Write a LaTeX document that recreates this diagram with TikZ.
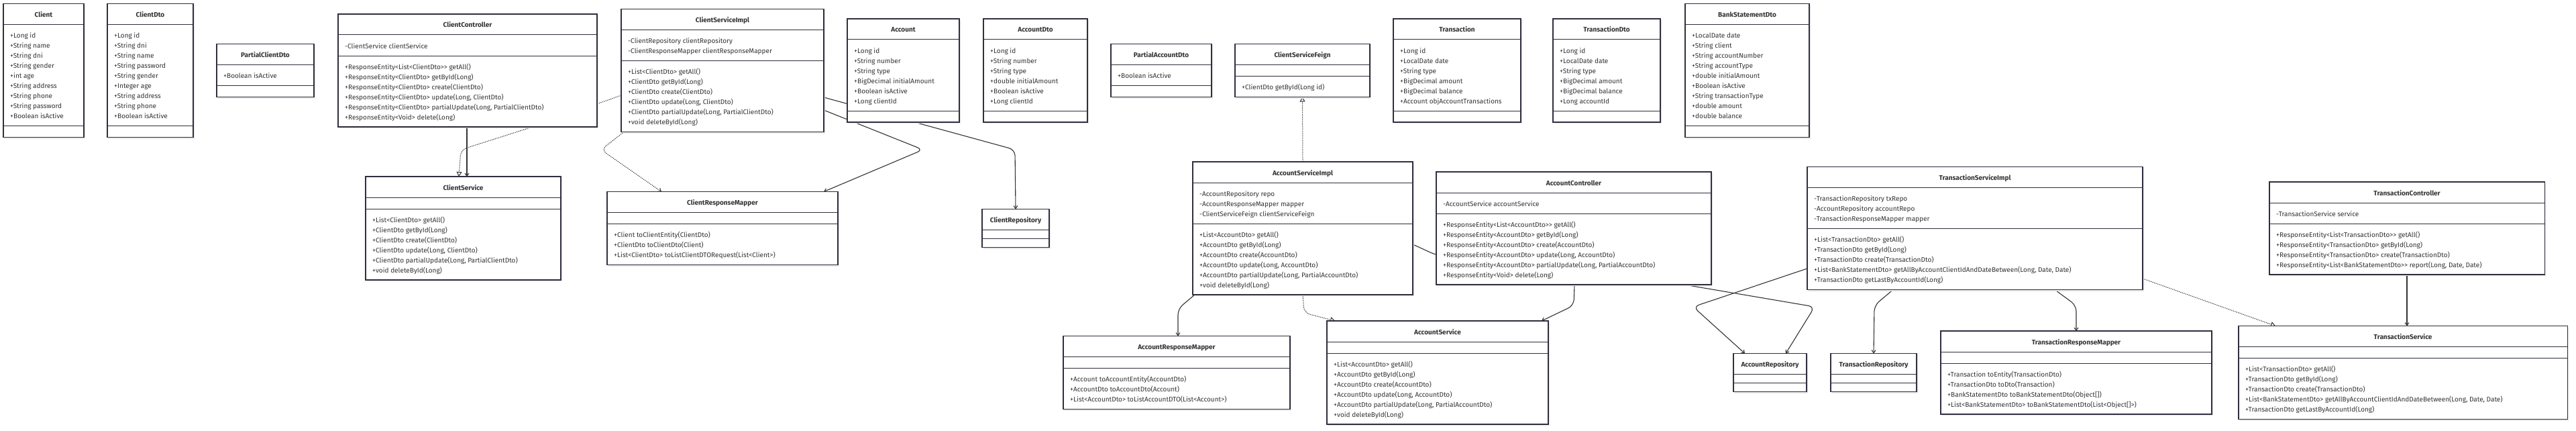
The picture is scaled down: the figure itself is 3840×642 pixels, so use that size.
\documentclass[tikz,border=0pt]{standalone}
\usepackage{fontspec}
\setmainfont{Fira Sans}
\usetikzlibrary{arrows.meta, shadows, backgrounds}

\definecolor{boxline}{HTML}{2F2F3F}
\definecolor{txtcol}{HTML}{333333}
\definecolor{edgecol}{HTML}{333333}

\tikzset{
  umlframe/.style={draw=boxline, line width=1.1pt, fill=white, inner sep=0pt, outer sep=0pt,
    drop shadow={shadow xshift=2pt, shadow yshift=-2pt, fill=black!9, opacity=1}},
  umlrule/.style={draw=boxline, line width=1pt},
  umltitle/.style={inner sep=0pt, text=txtcol, font=\fontsize{10}{15}\selectfont\bfseries},
  umltext/.style={inner sep=0pt, align=left, text=txtcol, font=\fontsize{10}{15}\selectfont},
  assoc/.style={draw=edgecol, line width=1.1pt, rounded corners=9pt, arrows={-Straight Barb[length=4pt,width=6pt]}},
  realize/.style={draw=edgecol, line width=1pt, dash pattern=on 1.3pt off 1.3pt, rounded corners=9pt, arrows={-Triangle[open,length=7pt,width=8pt]}},
  depend/.style={draw=edgecol, line width=1pt, dash pattern=on 1.3pt off 1.3pt, rounded corners=9pt, arrows={-Straight Barb[length=4pt,width=6pt]}}
}

\newcommand{\umlstrut}{\rule{0pt}{11pt}}
% name, left, centre y, width, title, #attr, attrs, #meth, methods
\newcommand{\umlclass}[9]{%
  \pgfmathsetmacro{\clsA}{ifthenelse(#6>0,#6*15+16,ifthenelse(#8>0,17,13))}%
  \pgfmathsetmacro{\clsM}{ifthenelse(#8>0,#8*15+16,ifthenelse(#6>0,17,13))}%
  \pgfmathsetmacro{\clsH}{31+\clsA+\clsM}%
  \pgfmathsetmacro{\clsT}{#3-\clsH/2}%
  \node[umlframe, anchor=north west, minimum width=#4pt, minimum height=\clsH pt] (#1) at (#2,\clsT) {};
  \draw[umlrule] ([yshift=-31pt]#1.north west) -- ([yshift=-31pt]#1.north east);
  \draw[umlrule] ([yshift=-31pt-\clsA pt]#1.north west) -- ([yshift=-31pt-\clsA pt]#1.north east);
  \node[umltitle, anchor=base] (#1-name) at ([yshift=-20pt]#1.north) {#5};
  \ifnum#6>0 \node[umltext, anchor=north west] (#1-attr) at ([xshift=10pt,yshift=-40pt]#1.north west) {\umlstrut#7};\fi
  \ifnum#8>0 \node[umltext, anchor=north west] (#1-meth) at ([xshift=10pt,yshift=-40pt-\clsA pt]#1.north west) {\umlstrut#9};\fi
}

\begin{document}
\begin{tikzpicture}[x=1pt, y=-1pt]
\useasboundingbox (0,0) rectangle (3840,642);

% first row
\umlclass{Client}{5}{105}{120}{Client}{9}{+Long id\\+String name\\+String dni\\+String gender\\+int age\\+String address\\+String phone\\+String password\\+Boolean isActive}{0}{}
\umlclass{ClientDto}{160}{105}{128}{ClientDto}{9}{+Long id\\+String dni\\+String name\\+String password\\+String gender\\+Integer age\\+String address\\+String phone\\+Boolean isActive}{0}{}
\umlclass{PartialClientDto}{323}{105}{145}{PartialClientDto}{1}{+Boolean isActive}{0}{}
\umlclass{ClientController}{504}{105}{386}{ClientController}{1}{-ClientService clientService}{6}{+ResponseEntity<List<ClientDto>{}> getAll()\\+ResponseEntity<ClientDto> getById(Long)\\+ResponseEntity<ClientDto> create(ClientDto)\\+ResponseEntity<ClientDto> update(Long, ClientDto)\\+ResponseEntity<ClientDto> partialUpdate(Long, PartialClientDto)\\+ResponseEntity<Void> delete(Long)}
\umlclass{ClientServiceImpl}{926}{105}{302}{ClientServiceImpl}{2}{-ClientRepository clientRepository\\-ClientResponseMapper clientResponseMapper}{6}{+List<ClientDto> getAll()\\+ClientDto getById(Long)\\+ClientDto create(ClientDto)\\+ClientDto update(Long, ClientDto)\\+ClientDto partialUpdate(Long, PartialClientDto)\\+void deleteById(Long)}
\umlclass{Account}{1263}{105}{167}{Account}{6}{+Long id\\+String number\\+String type\\+BigDecimal initialAmount\\+Boolean isActive\\+Long clientId}{0}{}
\umlclass{AccountDto}{1466}{105}{155}{AccountDto}{6}{+Long id\\+String number\\+String type\\+double initialAmount\\+Boolean isActive\\+Long clientId}{0}{}
\umlclass{PartialAccountDto}{1656}{105}{150}{PartialAccountDto}{1}{+Boolean isActive}{0}{}
\umlclass{ClientServiceFeign}{1841}{105}{201}{ClientServiceFeign}{0}{}{1}{+ClientDto getById(Long id)}
\umlclass{Transaction}{2077}{105}{190}{Transaction}{6}{+Long id\\+LocalDate date\\+String type\\+BigDecimal amount\\+BigDecimal balance\\+Account objAccountTransactions}{0}{}
\umlclass{TransactionDto}{2315}{105}{160}{TransactionDto}{6}{+Long id\\+LocalDate date\\+String type\\+BigDecimal amount\\+BigDecimal balance\\+Long accountId}{0}{}
\umlclass{BankStatementDto}{2512}{105}{185}{BankStatementDto}{9}{+LocalDate date\\+String client\\+String accountNumber\\+String accountType\\+double initialAmount\\+Boolean isActive\\+String transactionType\\+double amount\\+double balance}{0}{}

% second row
\umlclass{ClientService}{545}{340}{291}{ClientService}{0}{}{6}{+List<ClientDto> getAll()\\+ClientDto getById(Long)\\+ClientDto create(ClientDto)\\+ClientDto update(Long, ClientDto)\\+ClientDto partialUpdate(Long, PartialClientDto)\\+void deleteById(Long)}
\umlclass{ClientResponseMapper}{905}{340}{344}{ClientResponseMapper}{0}{}{3}{+Client toClientEntity(ClientDto)\\+ClientDto toClientDto(Client)\\+List<ClientDto> toListClientDTORequest(List<Client>)}
\umlclass{ClientRepository}{1464}{340}{100}{ClientRepository}{0}{}{0}{}
\umlclass{AccountServiceImpl}{1778}{340}{328}{AccountServiceImpl}{3}{-AccountRepository repo\\-AccountResponseMapper mapper\\-ClientServiceFeign clientServiceFeign}{6}{+List<AccountDto> getAll()\\+AccountDto getById(Long)\\+AccountDto create(AccountDto)\\+AccountDto update(Long, AccountDto)\\+AccountDto partialUpdate(Long, PartialAccountDto)\\+void deleteById(Long)}
\umlclass{AccountController}{2141}{340}{410}{AccountController}{1}{-AccountService accountService}{6}{+ResponseEntity<List<AccountDto>{}> getAll()\\+ResponseEntity<AccountDto> getById(Long)\\+ResponseEntity<AccountDto> create(AccountDto)\\+ResponseEntity<AccountDto> update(Long, AccountDto)\\+ResponseEntity<AccountDto> partialUpdate(Long, PartialAccountDto)\\+ResponseEntity<Void> delete(Long)}
\umlclass{TransactionServiceImpl}{2694}{340}{500}{TransactionServiceImpl}{3}{-TransactionRepository txRepo\\-AccountRepository accountRepo\\-TransactionResponseMapper mapper}{5}{+List<TransactionDto> getAll()\\+TransactionDto getById(Long)\\+TransactionDto create(TransactionDto)\\+List<BankStatementDto> getAllByAccountClientIdAndDateBetween(Long, Date, Date)\\+TransactionDto getLastByAccountId(Long)}
\umlclass{TransactionController}{3383}{340}{410}{TransactionController}{1}{-TransactionService service}{4}{+ResponseEntity<List<TransactionDto>{}> getAll()\\+ResponseEntity<TransactionDto> getById(Long)\\+ResponseEntity<TransactionDto> create(TransactionDto)\\+ResponseEntity<List<BankStatementDto>{}> report(Long, Date, Date)}

% third row
\umlclass{AccountResponseMapper}{1585}{555}{338}{AccountResponseMapper}{0}{}{3}{+Account toAccountEntity(AccountDto)\\+AccountDto toAccountDto(Account)\\+List<AccountDto> toListAccountDTO(List<Account>)}
\umlclass{AccountService}{1978}{555}{330}{AccountService}{0}{}{6}{+List<AccountDto> getAll()\\+AccountDto getById(Long)\\+AccountDto create(AccountDto)\\+AccountDto update(Long, AccountDto)\\+AccountDto partialUpdate(Long, PartialAccountDto)\\+void deleteById(Long)}
\umlclass{AccountRepository}{2584}{555}{109}{AccountRepository}{0}{}{0}{}
\umlclass{TransactionRepository}{2729}{555}{128}{TransactionRepository}{0}{}{0}{}
\umlclass{TransactionResponseMapper}{2893}{555}{404}{TransactionResponseMapper}{0}{}{4}{+Transaction toEntity(TransactionDto)\\+TransactionDto toDto(Transaction)\\+BankStatementDto toBankStatementDto(Object[])\\+List<BankStatementDto> toBankStatementDto(List<Object[]>)}
\umlclass{TransactionService}{3337}{555}{490}{TransactionService}{0}{}{5}{+List<TransactionDto> getAll()\\+TransactionDto getById(Long)\\+TransactionDto create(TransactionDto)\\+List<BankStatementDto> getAllByAccountClientIdAndDateBetween(Long, Date, Date)\\+TransactionDto getLastByAccountId(Long)}

\begin{pgfonlayer}{background}
\fill[white] (0,0) rectangle (3840,642);
% client
\draw[assoc] (696,0 |- ClientController.south) -- (696,0 |- ClientService.north);
\draw[realize] (ClientServiceImpl.west |- 0,142) -- (791,190) -- (687,223) -- (684,0 |- ClientService.north);
\draw[assoc] (ClientServiceImpl.east |- 0,145) -- (1513,223) -- (ClientRepository.north);
\draw[assoc] (ClientServiceImpl.east |- 0,164) -- (1376,223) -- (1228,0 |- ClientResponseMapper.north);
\draw[depend] (930,0 |- ClientServiceImpl.south) -- (896,223) -- (986,0 |- ClientResponseMapper.north);
% account
\draw[realize] (AccountServiceImpl.north) -- (ClientServiceFeign.south);
\draw[assoc] (AccountServiceImpl.east |- 0,364) -- (2141,380) -- (2493,421) -- (2705,457) -- (2662,0 |- AccountRepository.north);
\draw[assoc] (1781,0 |- AccountServiceImpl.south) -- (1756,460) -- (1756,0 |- AccountResponseMapper.north);
\draw[realize] (1942,0 |- AccountServiceImpl.south) -- (1944,466) -- (1990,0 |- AccountService.north);
\draw[assoc] (2347,0 |- AccountController.south) -- (2346,455) -- (2298,0 |- AccountService.north);
% transaction
\draw[assoc] (TransactionServiceImpl.west |- 0,400) -- (2524,457) -- (2601,0 |- AccountRepository.north);
\draw[assoc] (2822,0 |- TransactionServiceImpl.south) -- (2794,455) -- (2793,0 |- TransactionRepository.north);
\draw[assoc] (3063,0 |- TransactionServiceImpl.south) -- (3095,455) -- (3095,0 |- TransactionResponseMapper.north);
\draw[realize] (TransactionServiceImpl.east |- 0,415) -- (3392,0 |- TransactionService.north);
\draw[assoc] (3588,0 |- TransactionController.south) -- (3588,0 |- TransactionService.north);
\end{pgfonlayer}
\end{tikzpicture}
\end{document}
